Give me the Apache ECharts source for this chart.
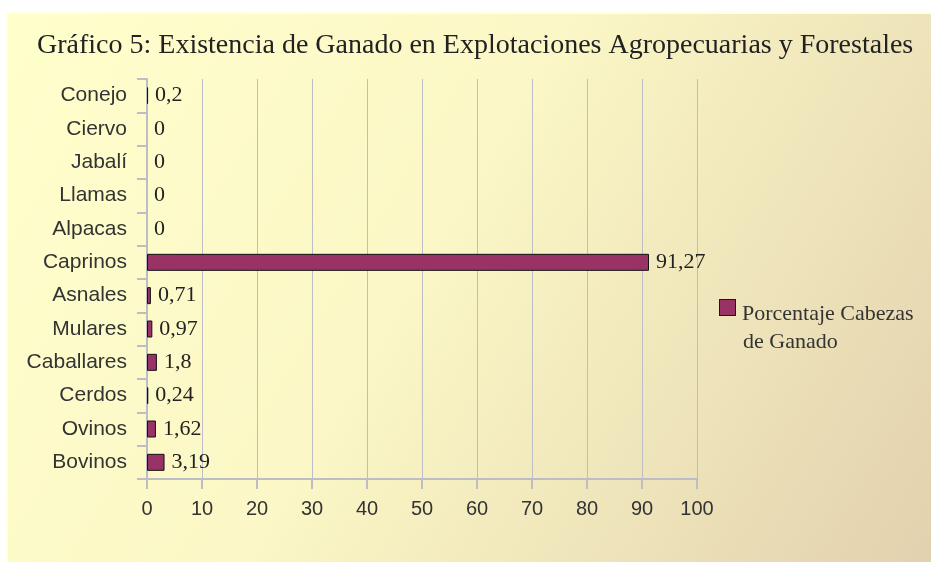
<!DOCTYPE html>
<html>
<head>
<meta charset="utf-8">
<script src="https://cdn.jsdelivr.net/npm/echarts@6/dist/echarts.min.js"></script>
<style>
html,body{margin:0;padding:0;background:#ffffff;}
#chart{width:931px;height:562px;}
</style>
</head>
<body>
<div id="chart"></div>
<script>
var titleText = 'Gráfico 5: Existencia de Ganado en Explotaciones Agropecuarias y Forestales';
var categories = ['Bovinos','Ovinos','Cerdos','Caballares','Mulares','Asnales','Caprinos','Alpacas','Llamas','Jabalí','Ciervo','Conejo'];
var values = [3.19, 1.62, 0.24, 1.8, 0.97, 0.71, 91.27, 0, 0, 0, 0, 0.2];
var seriesName = 'Porcentaje Cabezas de Ganado';
var xTicks = [0, 10, 20, 30, 40, 50, 60, 70, 80, 90, 100];

var chart = echarts.init(document.getElementById('chart'), null, {renderer: 'canvas'});
var axisGray = '#BDBDC6';
var barData = values.map(function (v) {
  return {value: v, itemStyle: {borderWidth: v === 0 ? 0 : 1}};
});
var option = {
  animation: false,
  graphic: [{
    type: 'rect', left: 6, top: 12, z: -100, silent: true,
    shape: {width: 925, height: 550},
    style: {
      fill: new echarts.graphic.LinearGradient(0, 0, 1, 1, [
        {offset: 0, color: '#FFFFCC'},
        {offset: 0.45, color: '#FBF7C6'},
        {offset: 1, color: '#E2D1AE'}
      ]),
      stroke: '#FFFFE6', lineWidth: 2
    }
  }],
  title: {
    text: titleText,
    left: 32, top: 27,
    textStyle: {fontFamily: 'Liberation Serif', fontWeight: 'normal', fontSize: 28, color: '#222'}
  },
  legend: {
    show: true,
    left: 709, top: 294,
    orient: 'vertical',
    itemWidth: 1, itemHeight: 1,
    itemStyle: {color: 'rgba(0,0,0,0)', borderWidth: 0},
    data: [{name: seriesName, icon: 'rect'}],
    formatter: function () {
      return '{sq| }{g| }{t|Porcentaje Cabezas}\n{sp| }{t|de Ganado}';
    },
    textStyle: {
      rich: {
        sq: {width: 15, height: 15, backgroundColor: '#993366', borderColor: '#1a1a1a', borderWidth: 1, lineHeight: 28, verticalAlign: 'top'},
        g: {width: 7},
        sp: {width: 23},
        t: {fontFamily: 'Liberation Serif', fontSize: 22, color: '#333', lineHeight: 28}
      }
    }
  },
  grid: {left: 147, right: 234, top: 79, bottom: 83, containLabel: false},
  xAxis: {
    type: 'value', min: 0, max: 100, interval: 10,
    axisLine: {show: true, lineStyle: {color: axisGray, width: 2}},
    axisTick: {show: true, length: 10, lineStyle: {color: axisGray, width: 2}},
    splitLine: {show: true, lineStyle: {color: axisGray, width: 1}},
    axisLabel: {margin: 20, fontFamily: 'Liberation Sans', fontSize: 20, color: '#333',
      formatter: function (v) { return xTicks.indexOf(v) >= 0 ? String(v) : ''; }}
  },
  yAxis: {
    type: 'category', data: categories,
    axisLine: {show: true, lineStyle: {color: axisGray, width: 2}},
    axisTick: {show: true, length: 10, alignWithLabel: false, lineStyle: {color: axisGray, width: 2}},
    splitLine: {show: false},
    axisLabel: {margin: 20, fontFamily: 'Liberation Sans', fontSize: 21, color: '#333'}
  },
  series: [{
    name: seriesName,
    type: 'bar',
    data: barData,
    barWidth: 17,
    itemStyle: {color: '#993366', borderColor: '#111', borderWidth: 1},
    label: {
      show: true, position: 'right', distance: 7,
      fontFamily: 'Liberation Serif', fontSize: 22, color: '#222',
      formatter: function (p) { return String(p.value).replace('.', ','); }
    }
  }]
};
chart.setOption(option);
</script>
</body>
</html>
